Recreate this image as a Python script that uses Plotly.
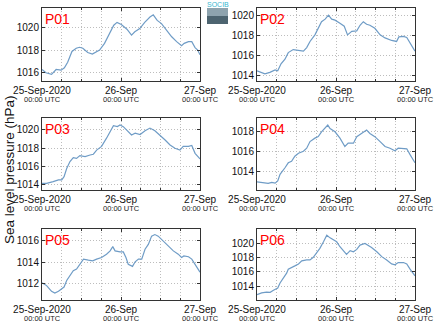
import pandas as pd
import plotly.graph_objects as go

# ---- data (hours since 25-Sep-2020 00:00 UTC, pressure in hPa) ----
p01_h = [0, 1.2, 2.9, 4.3, 5.8, 6.8, 7.8, 9.1, 10.4, 11.4, 12.4, 13.9, 15.3, 16.5, 17.5, 19.0, 20.5, 21.8, 22.8, 24.1,
         25.8, 27.2, 28.2, 29.7, 31.2, 32.8, 33.8, 35.0, 36.3, 37.8, 39.4, 40.9, 42.4, 43.2, 44.5, 45.5, 46.5, 47.3, 48]
p01_v = [1016.24, 1015.94, 1015.8, 1016.24, 1016.18, 1016.4, 1016.9, 1017.87, 1018.16, 1018.25, 1018.16, 1017.78,
         1017.63, 1017.87, 1018.0, 1018.6, 1019.5, 1020.24, 1020.5, 1020.3, 1019.88, 1019.35, 1019.65, 1019.94, 1020.5,
         1020.98, 1021.18, 1020.68, 1020.39, 1019.8, 1019.2, 1018.76, 1018.4, 1018.6, 1018.76, 1018.76, 1018.22, 1018.0,
         1017.57]

p02_h = [0, 1.4, 2.4, 3.9, 5.5, 6.3, 7.3, 8.5, 9.5, 11.0, 12.6, 14.1, 15.1, 16.1, 17.6, 18.6, 19.6, 20.7, 21.7, 22.7,
         23.7, 25.2, 26.5, 27.5, 28.8, 30.3, 31.3, 32.3, 33.3, 34.3, 35.8, 37.4, 38.9, 40.9, 42.4, 43.1, 44.5, 45.5, 46.5, 48]
p02_v = [1014.5, 1014.3, 1014.2, 1014.35, 1014.6, 1014.5, 1015.2, 1015.65, 1016.3, 1016.6, 1016.5, 1016.45, 1016.8,
         1017.4, 1018.05, 1018.7, 1019.35, 1019.6, 1020.0, 1019.6, 1019.5, 1019.2, 1018.9, 1018.05, 1018.4, 1018.45,
         1019.0, 1019.35, 1019.1, 1019.0, 1018.7, 1018.05, 1017.75, 1017.5, 1017.4, 1017.85, 1017.9, 1017.8, 1017.25,
         1016.45]

p03_h = [0, 1.4, 3.4, 5.0, 6.0, 6.7, 7.5, 8.5, 9.5, 10.5, 11.5, 13.1, 14.6, 15.6, 16.6, 18.1, 19.6, 20.7, 21.7, 22.9,
         23.7, 24.7, 25.7, 27.2, 28.3, 29.8, 31.3, 32.8, 34.3, 35.8, 37.4, 38.9, 40.4, 41.9, 42.9, 44.5, 45.5, 46.5, 48]
p03_v = [1014.18, 1014.18, 1014.36, 1014.55, 1014.55, 1014.9, 1015.8, 1016.55, 1016.98, 1016.9, 1017.2, 1017.1,
         1017.27, 1017.35, 1017.8, 1018.2, 1019.1, 1019.8, 1020.47, 1020.36, 1020.55, 1020.36, 1020.0, 1019.45,
         1019.64, 1019.5, 1019.9, 1020.2, 1019.9, 1019.45, 1018.9, 1018.36, 1018.0, 1017.8, 1018.2, 1018.2, 1018.3,
         1017.45, 1016.84]

p04_h = [0, 1.9, 3.4, 4.5, 5.5, 6.3, 7.0, 8.5, 9.5, 10.5, 11.5, 12.6, 14.1, 15.1, 16.1, 17.6, 18.6, 19.6, 20.7, 21.5,
         22.2, 23.7, 25.2, 26.7, 27.7, 29.3, 30.3, 31.8, 33.3, 34.3, 35.8, 37.4, 38.9, 40.4, 41.9, 42.9, 44.5, 45.5,
         46.5, 48]
p04_v = [1012.96, 1012.86, 1012.8, 1012.9, 1012.83, 1013.05, 1013.7, 1014.36, 1014.85, 1015.0, 1015.5, 1015.8,
         1016.0, 1016.3, 1016.96, 1017.3, 1017.45, 1017.93, 1018.26, 1018.6, 1018.26, 1017.93, 1017.3, 1016.47,
         1016.8, 1016.8, 1017.45, 1017.77, 1018.1, 1017.77, 1017.45, 1016.96, 1016.47, 1016.3, 1016.05, 1016.3,
         1016.3, 1016.24, 1015.66, 1014.85]

p05_h = [0, 1.4, 2.9, 3.9, 5.0, 6.0, 6.7, 7.5, 8.5, 9.5, 10.5, 11.5, 12.6, 14.1, 15.4, 16.6, 18.1, 19.6, 20.7, 21.5,
         22.2, 23.7, 24.7, 25.5, 26.2, 27.5, 28.3, 29.3, 30.3, 31.3, 32.3, 33.3, 34.3, 35.3, 36.9, 38.4, 39.9, 41.4,
         42.4, 43.1, 44.5, 45.5, 46.5, 48]
p05_v = [1012.06, 1011.8, 1011.26, 1011.1, 1011.26, 1011.45, 1011.66, 1012.28, 1012.74, 1013.2, 1013.35, 1013.82,
         1014.28, 1014.18, 1014.12, 1014.28, 1014.43, 1014.74, 1015.05, 1015.45, 1015.05, 1014.95, 1014.95, 1014.43,
         1013.8, 1013.6, 1014.03, 1014.28, 1014.28, 1015.2, 1015.66, 1016.43, 1016.58, 1016.43, 1015.97, 1015.5,
         1015.05, 1014.74, 1014.43, 1014.58, 1014.5, 1014.28, 1013.82, 1013.05]

p06_h = [0, 1.4, 2.9, 4.0, 5.0, 6.3, 7.0, 8.0, 9.0, 9.5, 10.5, 11.5, 12.6, 13.6, 15.1, 16.1, 17.1, 18.1, 19.1, 20.2,
         21.2, 22.2, 23.2, 24.2, 25.2, 26.2, 27.2, 28.3, 29.3, 30.3, 31.3, 32.8, 33.8, 34.8, 36.4, 37.9, 39.4, 40.9,
         41.9, 42.9, 44.5, 45.5, 46.5, 48]
p06_v = [1012.85, 1013.08, 1013.2, 1013.17, 1013.45, 1013.77, 1014.46, 1015.14, 1015.83, 1016.38, 1016.66, 1016.84,
         1017.11, 1017.53, 1017.66, 1017.66, 1018.03, 1018.58, 1019.27, 1020.18, 1021.1, 1020.73, 1020.5, 1020.18,
         1019.5, 1018.95, 1018.44, 1018.95, 1018.8, 1019.13, 1019.72, 1019.95, 1019.72, 1019.4, 1018.8, 1018.12,
         1017.66, 1017.11, 1016.98, 1017.3, 1017.3, 1017.11, 1016.38, 1015.46]

stations = ["P01", "P02", "P03", "P04", "P05", "P06"]
hours = [p01_h, p02_h, p03_h, p04_h, p05_h, p06_h]
values = [p01_v, p02_v, p03_v, p04_v, p05_v, p06_v]
y_ranges = [[1015.2, 1021.8], [1013.5, 1020.7], [1013.45, 1021.3],
            [1012.15, 1019.3], [1010.45, 1017.1], [1012.1, 1021.96]]

tick_dates = ["2020-09-25", "2020-09-26", "2020-09-27"]
tick_main = ["25-Sep-2020", "26-Sep", "27-Sep"]
tick_sub = "00:00 UTC"
y_title = "Sea level pressure (hPa)"

W, H = 434, 327
col_px = [(42, 200), (257, 415)]
row_px = [(8, 81), (118, 190), (229, 300)]

start = pd.Timestamp("2020-09-25 00:00")
line_color = "#6f9cc6"
font_family = "Liberation Sans, Arial, sans-serif"
grid_color = "#bdbdbd"
grid_dash = "1px,2px"

fig = go.Figure()
annotations = []
for i, name in enumerate(stations):
    r, c = divmod(i, 2)
    ax = "" if i == 0 else str(i + 1)
    t = [start + pd.Timedelta(hours=h) for h in hours[i]]
    fig.add_trace(go.Scatter(x=t, y=values[i], mode="lines",
                             line=dict(color=line_color, width=1.2),
                             xaxis="x" + ax, yaxis="y" + ax, showlegend=False))
    x0, x1 = col_px[c]
    y0, y1 = row_px[r]
    xdom = [x0 / W, x1 / W]
    ydom = [1 - y1 / H, 1 - y0 / H]
    fig.layout["xaxis" + ax] = dict(
        domain=xdom, anchor="y" + ax, type="date", automargin=False,
        range=[start, start + pd.Timedelta(hours=48)],
        tickvals=tick_dates, ticktext=tick_main,
        ticks="inside", ticklen=3, tickcolor="#333",
        showline=True, linecolor="#333", linewidth=1, mirror="ticks",
        showgrid=True, gridcolor=grid_color, griddash=grid_dash, gridwidth=1,
        minor=dict(dtick=6 * 3600 * 1000, showgrid=True, gridcolor=grid_color, griddash=grid_dash,
                   ticks="inside", ticklen=2, tickcolor="#333"),
        tickfont=dict(size=10, color="#111", family=font_family),
        zeroline=False, fixedrange=True,
    )
    fig.layout["yaxis" + ax] = dict(
        domain=ydom, anchor="x" + ax, range=y_ranges[i], automargin=False,
        tick0=1000, dtick=2, tickformat="d",
        ticks="inside", ticklen=3, tickcolor="#333",
        showline=True, linecolor="#333", linewidth=1, mirror="ticks",
        showgrid=True, gridcolor=grid_color, griddash=grid_dash, gridwidth=1,
        tickfont=dict(size=10, color="#111", family=font_family),
        zeroline=False, fixedrange=True,
    )
    annotations.append(dict(text=name, x=xdom[0] + 1 / W, y=ydom[1] - 1 / H, xref="paper", yref="paper",
                            xanchor="left", yanchor="top", showarrow=False,
                            font=dict(size=14, color="#ff0000", family=font_family)))
    for d in tick_dates:
        annotations.append(dict(text=tick_sub, x=d, xref="x" + ax, y=-18 / (y1 - y0), yref="y" + ax + " domain",
                                xanchor="center", yanchor="middle", showarrow=False,
                                font=dict(size=7.5, color="#222", family=font_family)))

annotations.append(dict(text=y_title, x=10 / W, y=1 - 170 / H, xref="paper", yref="paper",
                        textangle=-90, showarrow=False, xanchor="center", yanchor="middle",
                        font=dict(size=13.5, color="#111", family=font_family)))
# small logo
annotations.append(dict(text="SOCIB", x=218 / W, y=1 - 5 / H, xref="paper", yref="paper",
                        showarrow=False, xanchor="center", yanchor="middle",
                        font=dict(size=7, color="#35b6cf", family=font_family)))
shapes = [
    dict(type="rect", xref="paper", yref="paper", x0=207 / W, x1=228 / W, y0=1 - 16 / H, y1=1 - 8 / H,
         fillcolor="#8ea3ae", line=dict(width=0)),
    dict(type="rect", xref="paper", yref="paper", x0=207 / W, x1=228 / W, y0=1 - 24 / H, y1=1 - 16 / H,
         fillcolor="#4d6470", line=dict(width=0)),
]

fig.update_layout(template="none", width=W, height=H, margin=dict(l=0, r=0, t=0, b=0, pad=0),
                  paper_bgcolor="white", plot_bgcolor="white",
                  annotations=annotations, shapes=shapes,
                  font=dict(family=font_family))
fig.write_html("out.html")
